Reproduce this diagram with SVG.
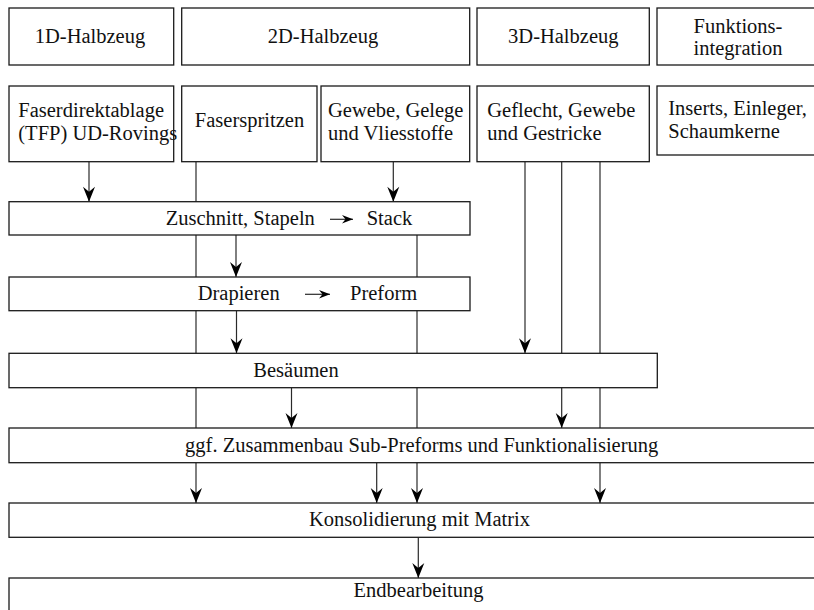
<svg xmlns="http://www.w3.org/2000/svg" width="814" height="610" viewBox="0 0 814 610">
<style>
.box{fill:#fff;stroke:#1a1a1a;stroke-width:1.3}
.t{font-family:"Liberation Serif","Times New Roman",serif;font-size:20.5px;fill:#111}
.m{text-anchor:middle}
.c{fill:none;stroke:#2a2a2a;stroke-width:1.2}
</style>
<defs>
<marker id="ah" viewBox="-16 -7 17 14" refX="0" refY="0" markerWidth="17" markerHeight="14" markerUnits="userSpaceOnUse" orient="auto">
<path d="M0,0 L-15,-6 L-10,0 L-15,6 Z" fill="#000"/>
</marker>
<marker id="ahs" viewBox="-12 -5 13 10" refX="0" refY="0" markerWidth="13" markerHeight="10" markerUnits="userSpaceOnUse" orient="auto">
<path d="M0,0 L-11,-4.2 L-7.5,0 L-11,4.2 Z" fill="#000"/>
</marker>
</defs>
<rect width="814" height="610" fill="#fff"/>
<g id="connectors">
<line class="c" x1="89" y1="162" x2="89" y2="201.7" marker-end="url(#ah)"/>
<line class="c" x1="196" y1="162" x2="196" y2="503" marker-end="url(#ah)"/>
<line class="c" x1="393.3" y1="162" x2="393.3" y2="201.7" marker-end="url(#ah)"/>
<line class="c" x1="236" y1="235" x2="236" y2="277" marker-end="url(#ah)"/>
<line class="c" x1="236.5" y1="311" x2="236.5" y2="353.3" marker-end="url(#ah)"/>
<line class="c" x1="417" y1="235" x2="417" y2="503" marker-end="url(#ah)"/>
<line class="c" x1="525" y1="162" x2="525" y2="353.3" marker-end="url(#ah)"/>
<line class="c" x1="561.7" y1="162" x2="561.7" y2="428" marker-end="url(#ah)"/>
<line class="c" x1="600" y1="162" x2="600" y2="503" marker-end="url(#ah)"/>
<line class="c" x1="291.5" y1="388" x2="291.5" y2="428" marker-end="url(#ah)"/>
<line class="c" x1="376.7" y1="463" x2="376.7" y2="503" marker-end="url(#ah)"/>
<line class="c" x1="418.3" y1="537.5" x2="418.3" y2="578" marker-end="url(#ah)"/>
</g>
<g id="h1d"><rect class="box" x="9" y="8" width="164.7" height="57"/><text class="t m" x="90" y="43">1D-Halbzeug</text></g>
<g id="h2d"><rect class="box" x="181.7" y="8" width="288" height="57"/><text class="t m" x="323" y="43">2D-Halbzeug</text></g>
<g id="h3d"><rect class="box" x="477" y="8" width="172.3" height="57"/><text class="t m" x="563.3" y="43">3D-Halbzeug</text></g>
<g id="hfi"><rect class="box" x="657" y="8" width="170" height="57"/><text class="t m" x="738" y="32.5">Funktions-</text><text class="t m" x="738" y="55">integration</text></g>
<g id="fdt"><rect class="box" x="9" y="86" width="164.7" height="75.7"/><text class="t" x="18.3" y="117">Faserdirektablage</text><text class="t" x="18.3" y="140">(TFP) UD-Rovings</text></g>
<g id="fsp"><rect class="box" x="181.7" y="86" width="135.3" height="75.7"/><text class="t m" x="249.5" y="127">Faserspritzen</text></g>
<g id="ggv"><rect class="box" x="321" y="86" width="148.7" height="75.7"/><text class="t" x="328" y="117">Gewebe, Gelege</text><text class="t" x="328" y="140">und Vliesstoffe</text></g>
<g id="ggg"><rect class="box" x="477" y="86" width="172.3" height="75.7"/><text class="t" x="487.3" y="117">Geflecht, Gewebe</text><text class="t" x="487.3" y="140">und Gestricke</text></g>
<g id="ies"><rect class="box" x="657" y="86" width="170" height="69"/><text class="t" x="668.3" y="115">Inserts, Einleger,</text><text class="t" x="668.3" y="138">Schaumkerne</text></g>
<g id="zus"><rect class="box" x="9" y="201.7" width="461" height="33.3"/><text class="t" x="165.7" y="225">Zuschnitt, Stapeln</text><line class="c" x1="330" y1="219.3" x2="353" y2="219.3" marker-end="url(#ahs)"/><text class="t" x="366.7" y="225">Stack</text></g>
<g id="dra"><rect class="box" x="9" y="277" width="461" height="33.7"/><text class="t" x="197.7" y="300.3">Drapieren</text><line class="c" x1="305" y1="294.3" x2="330" y2="294.3" marker-end="url(#ahs)"/><text class="t" x="350" y="300.3">Preform</text></g>
<g id="bes"><rect class="box" x="9" y="353.3" width="648.3" height="34.4"/><text class="t m" x="296" y="377">Besäumen</text></g>
<g id="zsb"><rect class="box" x="9" y="428" width="830" height="34.7"/><text class="t m" x="421.7" y="452">ggf. Zusammenbau Sub-Preforms und Funktionalisierung</text></g>
<g id="kon"><rect class="box" x="9" y="503" width="830" height="34.3"/><text class="t m" x="419.5" y="525.5">Konsolidierung mit Matrix</text></g>
<g id="end"><rect class="box" x="9" y="578" width="830" height="45"/><text class="t m" x="418.5" y="597">Endbearbeitung</text></g>
</svg>
